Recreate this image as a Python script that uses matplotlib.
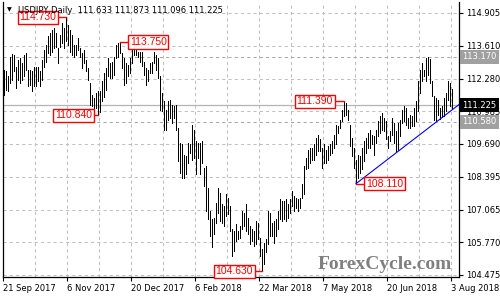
import matplotlib
matplotlib.use("Agg")
import matplotlib.pyplot as plt
import numpy as np

# daily high / low of USDJPY, one value per bar (21 Sep 2017 .. 3 Aug 2018)
highs = [112.64, 112.58, 112.38, 113.17, 113.26, 113.24, 112.77, 113.04, 113.10, 112.90,
         113.24, 113.30, 112.64, 112.64, 112.58, 112.77, 112.77, 112.77, 112.58, 113.04,
         113.44, 113.63, 113.97, 114.10, 114.23, 114.30, 114.10, 113.50, 114.03, 114.49,
         114.30, 114.73, 114.43, 114.23, 114.03, 113.63, 113.63, 113.90, 113.50, 113.30,
         113.44, 113.04, 112.71, 112.11, 111.65, 111.52, 111.72, 111.78, 111.78, 112.18,
         112.51, 112.71, 113.11, 112.91, 112.97, 113.17, 113.64, 113.70, 113.75, 113.30,
         113.11, 112.91, 112.84, 113.11, 113.70, 113.57, 113.44, 113.37, 113.37, 113.37,
         112.97, 112.71, 112.64, 112.91, 112.97, 113.37, 113.24, 113.11, 112.40, 111.72,
         111.39, 111.06, 111.39, 111.45, 111.25, 111.19, 111.25, 110.33, 109.73, 109.67,
         109.27, 109.20, 109.73, 109.67, 110.46, 110.26, 109.80, 109.73, 109.73, 109.80,
         108.74, 108.81, 107.95, 107.02, 106.69, 106.76, 107.35, 107.95, 107.75, 107.29,
         107.22, 107.68, 107.55, 107.22, 106.29, 106.23, 106.49, 106.23, 106.43, 107.02,
         106.96, 107.29, 106.76, 106.43, 106.29, 106.23, 106.62, 106.56, 105.96, 105.50,
         105.76, 105.90, 107.02, 106.96, 106.56, 106.62, 106.69, 107.02, 107.48, 107.42,
         107.42, 107.48, 107.29, 107.48, 107.81, 107.62, 107.55, 107.48, 107.55, 108.10,
         108.81, 109.14, 109.47, 109.54, 109.54, 109.67, 109.93, 110.06, 109.87, 109.54,
         109.67, 109.47, 109.60, 109.67, 109.80, 110.06, 110.46, 110.40, 110.66, 111.06,
         111.39, 111.32, 111.06, 110.46, 109.93, 109.54, 109.07, 109.27, 109.20, 109.54,
         109.80, 109.93, 110.13, 110.26, 110.06, 110.00, 110.26, 110.59, 110.79, 110.93,
         110.73, 110.59, 110.00, 110.20, 110.73, 110.53, 110.20, 110.53, 110.66, 111.06,
         111.19, 111.12, 110.73, 110.86, 110.79, 111.12, 111.39, 112.18, 112.64, 112.91,
         112.64, 113.10, 113.17, 113.08, 112.18, 111.59, 111.52, 111.45, 111.12, 111.19,
         111.52, 111.72, 112.18, 112.11, 111.873]
lows = [111.65, 111.85, 111.78, 112.11, 112.25, 112.58, 111.91, 112.25, 112.11, 112.25,
        112.38, 112.64, 111.98, 112.05, 111.78, 111.98, 111.98, 112.18, 111.98, 112.25,
        112.77, 112.97, 113.30, 113.24, 113.37, 113.50, 113.57, 112.91, 113.57, 113.70,
        113.50, 113.77, 113.63, 113.37, 113.24, 113.17, 113.24, 113.44, 113.17, 112.71,
        112.91, 112.58, 112.25, 111.25, 111.19, 111.12, 111.12, 110.84, 110.95, 111.39,
        111.58, 111.85, 112.38, 112.31, 112.31, 112.44, 113.11, 113.17, 113.30, 112.71,
        112.05, 112.11, 112.38, 112.51, 112.91, 113.24, 113.24, 113.17, 112.97, 112.78,
        112.44, 112.05, 112.18, 112.51, 112.51, 112.91, 112.64, 112.31, 111.06, 110.99,
        110.26, 110.26, 110.66, 110.72, 110.53, 110.72, 110.26, 109.01, 108.54, 108.34,
        108.34, 108.48, 108.94, 109.34, 109.07, 109.14, 108.48, 109.14, 108.48, 108.94,
        108.01, 107.02, 106.69, 106.03, 105.57, 106.09, 106.56, 106.96, 106.62, 106.56,
        106.43, 106.82, 106.89, 106.23, 105.24, 105.43, 105.83, 105.90, 105.96, 106.29,
        106.43, 106.23, 106.09, 105.70, 105.83, 105.63, 105.70, 105.90, 105.24, 104.63,
        104.90, 105.37, 105.70, 106.03, 106.03, 105.76, 106.03, 106.29, 106.69, 106.62,
        106.69, 106.62, 106.76, 106.96, 107.22, 107.02, 107.15, 107.02, 107.15, 107.55,
        107.70, 108.68, 108.74, 108.94, 109.07, 109.07, 109.27, 109.40, 109.40, 108.74,
        108.94, 108.94, 109.07, 109.27, 109.34, 109.54, 109.67, 110.13, 110.33, 110.59,
        110.79, 110.86, 110.66, 109.60, 109.20, 108.74, 108.11, 108.34, 108.54, 108.68,
        109.01, 109.34, 109.54, 109.54, 109.67, 109.27, 109.73, 110.00, 110.13, 110.26,
        110.20, 109.87, 109.54, 109.80, 110.06, 109.73, 109.40, 109.47, 110.00, 110.53,
        110.59, 110.46, 110.33, 110.33, 110.40, 110.40, 110.59, 110.99, 111.72, 112.18,
        112.38, 112.18, 112.44, 112.11, 111.59, 110.66, 110.59, 110.86, 110.70, 110.75,
        110.80, 110.99, 111.45, 111.19, 111.096]

date_labels = ["21 Sep 2017", "6 Nov 2017", "20 Dec 2017", "6 Feb 2018",
               "22 Mar 2018", "7 May 2018", "20 Jun 2018", "3 Aug 2018"]
date_bars = [0, 32, 64, 96, 128, 160, 192, 224]
price_ticks = [104.475, 105.770, 107.065, 108.395, 109.690,
               110.985, 112.280, 113.610, 114.905]

# swing highs / lows marked on the chart
swing_bars = [31, 58, 47, 129, 170, 176]
swing_prices = [114.730, 113.750, 110.840, 104.630, 111.390, 108.110]
swing_side = [-1, 1, -1, -1, -1, 1]
swing_gap = [5, 5, 3, 4.5, 5.5, 5]

level_prices = [113.170, 110.580]
last_price = 111.225
title_values = [111.633, 111.873, 111.096, 111.225]
trend_bars = [176, 227.5]
trend_prices = [108.110, 111.26]

fig = plt.figure(figsize=(5, 3), dpi=100)
ax = fig.add_axes([0.006, 0.0767, 0.912, 0.9167])
ax.set_xlim(-0.5, 227.5)
ax.set_ylim(104.395, 115.343)

grid_kw = dict(color="#c0c0c0", lw=0.75, ls=(0, (3, 3)), zorder=0)
for p in price_ticks:
    ax.axhline(p, **grid_kw)
for b in np.arange(16, 228, 16):
    ax.axvline(b - 0.5, **grid_kw)

for p in level_prices:
    ax.axhline(p, color="#a8a8a8", lw=0.75, ls=(0, (3, 3)), zorder=0.5)
ax.axhline(last_price, color="#b4b4b4", lw=0.9, zorder=0.5)

ax.text(0.985, 0.047, "ForexCycle.com", transform=ax.transAxes, ha="right",
        va="center", family="Liberation Serif", weight="bold", fontsize=14,
        color="#808080", zorder=1)

x = np.arange(len(highs))
ax.vlines(x, lows, highs, color="black", lw=0.72, antialiased=False, zorder=2)

ax.plot(trend_bars, trend_prices, color="#0000ff", lw=0.8, zorder=2.5)

for b, p, s, g in zip(swing_bars, swing_prices, swing_side, swing_gap):
    ax.plot([b, b + s * (g - 1)], [p, p], color="red", lw=1.0, zorder=3)
    ax.text(b + s * g, p, f"{p:.3f}", ha="left" if s > 0 else "right", va="center",
            family="Liberation Sans", fontsize=7.5, color="red", zorder=4,
            bbox=dict(boxstyle="square,pad=0.15", fc="white", ec="red", lw=1.0))

ax.spines["top"].set_visible(False)
for sp in ["left", "bottom", "right"]:
    ax.spines[sp].set_color("black")
    ax.spines[sp].set_linewidth(0.9)

ax.yaxis.tick_right()
ax.set_yticks(price_ticks)
ax.set_yticklabels([f"{p:.3f}" for p in price_ticks])
ax.set_xticks([b - 0.5 for b in date_bars])
ax.set_xticklabels(date_labels, ha="left")
ax.tick_params(axis="y", length=3, width=0.8, pad=2, labelsize=6, colors="black")
ax.tick_params(axis="x", length=3, width=0.8, pad=2, labelsize=6, colors="black")

ytf = ax.get_yaxis_transform()
for p in level_prices:
    ax.text(1.007, p, f"{p:.3f}", transform=ytf, ha="left", va="center", fontsize=6,
            color="white", zorder=5, clip_on=False,
            bbox=dict(boxstyle="square,pad=0.3", fc="#a0a0a0", ec="none"))
ax.text(1.007, last_price, f"{last_price:.3f}", transform=ytf, ha="left", va="center",
        fontsize=6, color="white", zorder=5, clip_on=False,
        bbox=dict(boxstyle="square,pad=0.3", fc="black", ec="none"))

fig.text(0.014, 0.966, "\u25bc", fontsize=4.5, va="center", color="black")
fig.text(0.036, 0.966, "USDJPY,Daily  " + " ".join(f"{v:.3f}" for v in title_values),
         fontsize=6, va="center", color="black", zorder=1)

fig.savefig("out.png", dpi=100)
